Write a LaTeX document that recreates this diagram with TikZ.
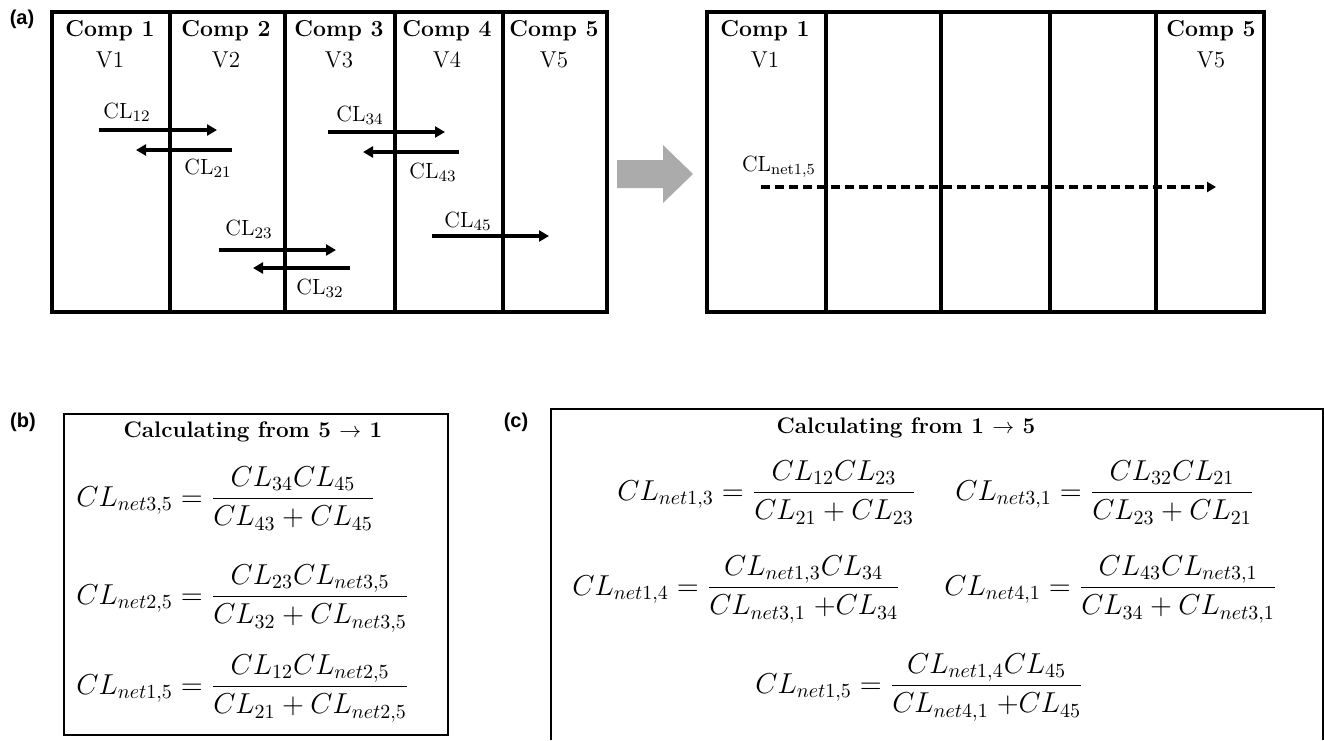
\documentclass[tikz,border=0pt]{standalone}
\usepackage{amsmath}
\usepackage{fontspec}
\newfontfamily\panelfont{Liberation Sans}
\usetikzlibrary{arrows.meta, positioning}
\definecolor{shiftgray}{RGB}{171, 171, 171}
\tikzset{
    compline/.style={draw=black, line width=1.9pt},
    divline/.style={draw=black, line width=1.7pt},
    complabel/.style={anchor=base, inner sep=0pt, font=\fontsize{11.5}{13}\selectfont\bfseries},
    vollabel/.style={anchor=base, inner sep=0pt, font=\fontsize{11.5}{13}\selectfont},
    cllabel/.style={inner sep=0pt, font=\fontsize{11}{13}\selectfont},
    clarrow/.style={-{Triangle[length=5pt, width=5.5pt]}, line width=1.6pt},
    netarrow/.style={-{Triangle[length=4.5pt, width=5pt]}, line width=1.7pt, dash pattern=on 4.5pt off 2.5pt},
    panellabel/.style={inner sep=0pt, font=\panelfont\fontsize{10}{12}\selectfont\bfseries},
    eqbox/.style={draw=black, line width=1.1pt},
    eqtitle/.style={inner sep=0pt, font=\fontsize{11.25}{13}\selectfont\bfseries},
    eqnode/.style={anchor=base west, inner sep=0pt, font=\fontsize{14.5}{17}\selectfont}
}

\begin{document}
\begin{tikzpicture}[x=0.5pt, y=-0.5pt]
      \useasboundingbox (0,0) rectangle (1324,740);

      % (a) five compartments
      \node[panellabel] (pa) at (22,19) {(a)};
      \draw[compline] (52,12) rectangle (607,312);
      \draw[divline] (170,12) -- (170,312);
      \draw[divline] (285,12) -- (285,312);
      \draw[divline] (395,12) -- (395,312);
      \draw[divline] (503,12) -- (503,312);

      \node[complabel] (comp1) at (110,36) {Comp 1};
      \node[complabel] (comp2) at (226,36) {Comp 2};
      \node[complabel] (comp3) at (339,36) {Comp 3};
      \node[complabel] (comp4) at (447,36) {Comp 4};
      \node[complabel] (comp5) at (554,36) {Comp 5};
      \node[vollabel] (vol1) at (110,67) {V1};
      \node[vollabel] (vol2) at (226,67) {V2};
      \node[vollabel] (vol3) at (339,67) {V3};
      \node[vollabel] (vol4) at (447,67) {V4};
      \node[vollabel] (vol5) at (554,67) {V5};

      % clearances between neighbours
      \coordinate (f12) at (99,130);  \coordinate (t12) at (217,130);
      \coordinate (f21) at (232,150); \coordinate (t21) at (136,150);
      \coordinate (f34) at (328,132); \coordinate (t34) at (445,132);
      \coordinate (f43) at (459,152); \coordinate (t43) at (363,152);
      \coordinate (f23) at (219,250); \coordinate (t23) at (336,250);
      \coordinate (f32) at (350,268); \coordinate (t32) at (253,268);
      \coordinate (f45) at (432,236); \coordinate (t45) at (549,236);
      \draw[clarrow] (f12) -- (t12);
      \draw[clarrow] (f21) -- (t21);
      \draw[clarrow] (f34) -- (t34);
      \draw[clarrow] (f43) -- (t43);
      \draw[clarrow] (f23) -- (t23);
      \draw[clarrow] (f32) -- (t32);
      \draw[clarrow] (f45) -- (t45);
      \node[cllabel] (l12) at (127,112) {CL$_{12}$};
      \node[cllabel] (l21) at (208,168) {CL$_{21}$};
      \node[cllabel] (l34) at (360,115) {CL$_{34}$};
      \node[cllabel] (l43) at (433,172) {CL$_{43}$};
      \node[cllabel] (l23) at (249,229) {CL$_{23}$};
      \node[cllabel] (l32) at (320,288) {CL$_{32}$};
      \node[cllabel] (l45) at (468,221) {CL$_{45}$};

      % reduction arrow
      \fill[shiftgray] (617,160) -- (663,160) -- (663,145) -- (693,174) -- (663,203) -- (663,188) -- (617,188) -- cycle;

      % net clearance
      \draw[compline] (707,12) rectangle (1264,312);
      \draw[divline] (826,12) -- (826,312);
      \draw[divline] (941,12) -- (941,312);
      \draw[divline] (1050,12) -- (1050,312);
      \draw[divline] (1156,12) -- (1156,312);
      \node[complabel] (rcomp1) at (765,36) {Comp 1};
      \node[complabel] (rcomp5) at (1211,36) {Comp 5};
      \node[vollabel] (rvol1) at (765,67) {V1};
      \node[vollabel] (rvol5) at (1211,67) {V5};
      \coordinate (fnet) at (761,187);
      \coordinate (tnet) at (1216,187);
      \draw[netarrow] (fnet) -- (tnet);
      \node[cllabel] (lnet) at (779,167) {CL$_{\text{net1,5}}$};

      % (b) from 5 to 1
      \node[panellabel] (pb) at (23,422) {(b)};
      \draw[eqbox] (64,414) rectangle (448,735);
      \node[eqtitle] (tb) at (253,432) {Calculating from 5 $\rightarrow$ 1};
      \node[eqnode] (b1) at (76,506) {$CL_{net3{,}5} = \dfrac{CL_{34}CL_{45}}{CL_{43} + CL_{45}}$};
      \node[eqnode] (b2) at (76,604) {$CL_{net2{,}5} = \dfrac{CL_{23}CL_{net3{,}5}}{CL_{32} + CL_{net3{,}5}}$};
      \node[eqnode] (b3) at (76,694) {$CL_{net1{,}5} = \dfrac{CL_{12}CL_{net2{,}5}}{CL_{21} + CL_{net2{,}5}}$};

      % (c) from 1 to 5
      \node[panellabel] (pc) at (516,422) {(c)};
      \draw[eqbox] (551,740) -- (551,409) -- (1323,409) -- (1323,740);
      \node[eqtitle] (tc) at (906,428) {Calculating from 1 $\rightarrow$ 5};
      \node[eqnode] (c1) at (617,500) {$CL_{net1{,}3} = \dfrac{CL_{12}CL_{23}}{CL_{21} + CL_{23}}$};
      \node[eqnode] (c2) at (955,500) {$CL_{net3{,}1} = \dfrac{CL_{32}CL_{21}}{CL_{23} + CL_{21}}$};
      \node[eqnode] (c3) at (572,595) {$CL_{net1{,}4} = \dfrac{CL_{net1{,}3}CL_{34}}{CL_{net3{,}1}\;{+}CL_{34}}$};
      \node[eqnode] (c4) at (944,595) {$CL_{net4{,}1} = \dfrac{CL_{43}CL_{net3{,}1}}{CL_{34} + CL_{net3{,}1}}$};
      \node[eqnode] (c5) at (755,693) {$CL_{net1{,}5} = \dfrac{CL_{net1{,}4}CL_{45}}{CL_{net4{,}1}\;{+}CL_{45}}$};
    \end{tikzpicture}
\end{document}
